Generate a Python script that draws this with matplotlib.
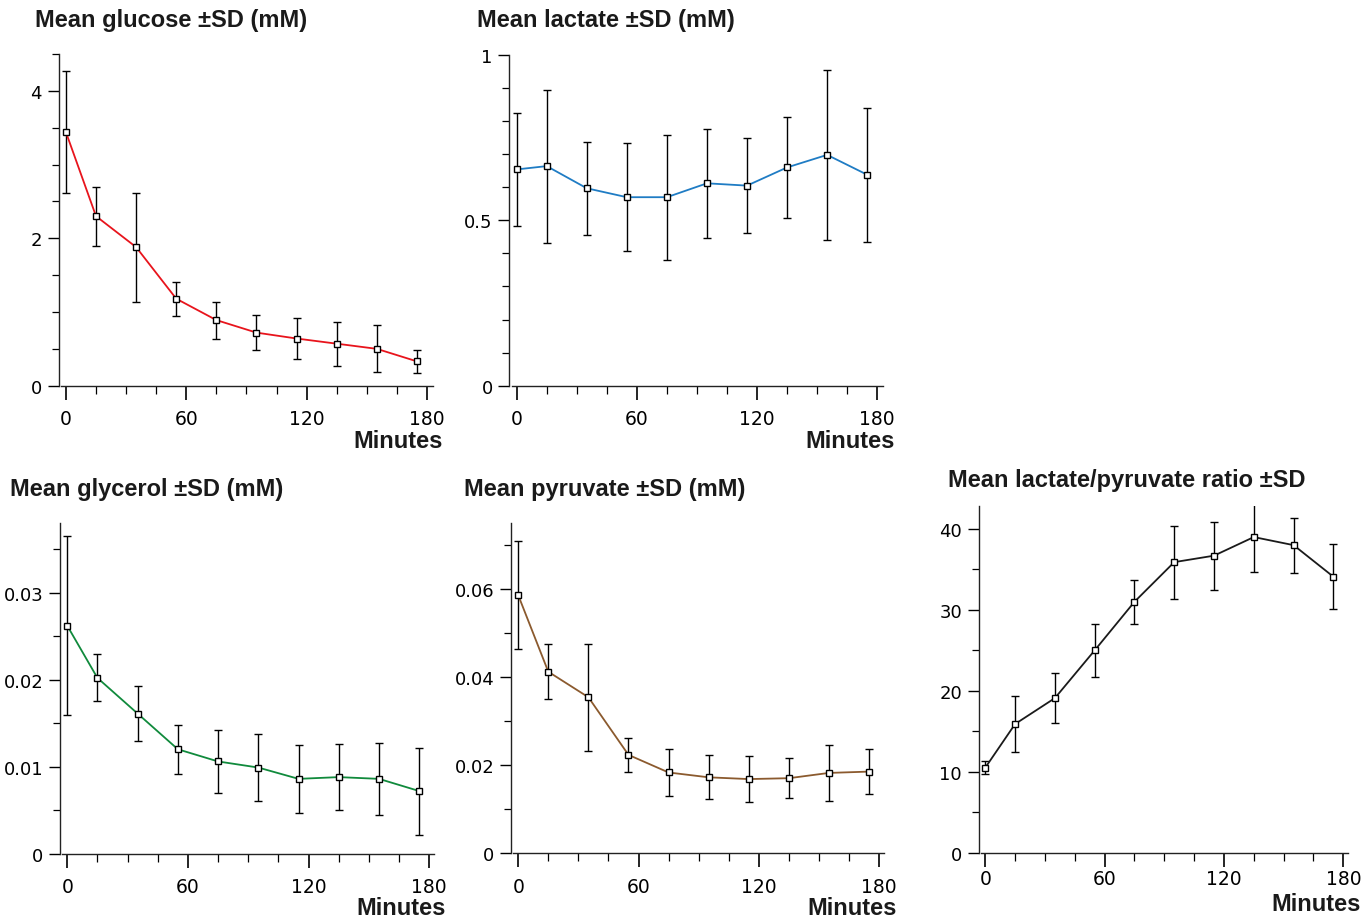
import numpy as np
import matplotlib
matplotlib.use("Agg")
import matplotlib.pyplot as plt
from matplotlib.ticker import MultipleLocator, FuncFormatter

# sample times (minutes)
minutes = [0, 15, 35, 55, 75, 95, 115, 135, 155, 175]

glucose = [3.44, 2.30, 1.88, 1.18, 0.89, 0.72, 0.64, 0.57, 0.50, 0.33]
glucose_sd = [0.83, 0.40, 0.74, 0.23, 0.25, 0.24, 0.28, 0.30, 0.32, 0.16]

lactate = [0.654, 0.664, 0.597, 0.570, 0.570, 0.612, 0.605, 0.660, 0.698, 0.638]
lactate_sd = [0.171, 0.231, 0.140, 0.163, 0.189, 0.165, 0.144, 0.152, 0.256, 0.202]

glycerol = [0.0262, 0.0202, 0.0161, 0.0120, 0.0106, 0.0099, 0.0086, 0.0088, 0.0086, 0.0072]
glycerol_sd = [0.0103, 0.0027, 0.0032, 0.0028, 0.0036, 0.0039, 0.0039, 0.0038, 0.0041, 0.0050]

pyruvate = [0.0586, 0.0412, 0.0354, 0.0223, 0.0183, 0.0172, 0.0168, 0.0170, 0.0182, 0.0185]
pyruvate_sd = [0.0123, 0.0062, 0.0122, 0.0039, 0.0054, 0.0050, 0.0052, 0.0045, 0.0064, 0.0052]

ratio = [10.5, 15.9, 19.1, 25.0, 31.0, 35.9, 36.7, 39.0, 38.0, 34.1]
ratio_sd = [0.8, 3.5, 3.05, 3.25, 2.75, 4.5, 4.2, 4.3, 3.4, 4.0]

W, H = 1363, 920
fig = plt.figure(figsize=(W / 100, H / 100), dpi=100)

title_font = dict(family=["Liberation Sans", "DejaVu Sans"], weight="bold", size=17, color="#1a1a1a")


def make_panel(left, top, right, bottom, xlim, ylim, yticks, yminor,
               y, sd, color, title, title_xy, minutes_xy, xpad=7):
    ax = fig.add_axes([left / W, 1 - bottom / H, (right - left) / W, (bottom - top) / H])
    ax.errorbar(minutes, y, yerr=sd, color=color, lw=1.3, ecolor="black",
                elinewidth=1.0, capsize=3, capthick=1.0, marker="s", ms=5,
                mfc="white", mec="black", mew=1.0, clip_on=True)
    ax.set_xlim(*xlim)
    ax.set_ylim(*ylim)
    ax.spines["top"].set_visible(False)
    ax.spines["right"].set_visible(False)
    ax.spines["bottom"].set_bounds(xlim[0] + 1.2, xlim[1])
    for s in ("left", "bottom"):
        ax.spines[s].set_linewidth(1.0)
        ax.spines[s].set_color("#222222")
    ax.set_xticks([0, 60, 120, 180])
    ax.xaxis.set_minor_locator(MultipleLocator(15))
    ax.set_yticks(yticks)
    ax.yaxis.set_minor_locator(MultipleLocator(yminor))
    ax.yaxis.set_major_formatter(FuncFormatter(lambda v, p: "%g" % v))
    ax.tick_params(axis="x", which="major", length=10, width=1.2, pad=xpad, labelsize=13.5)
    ax.tick_params(axis="x", which="minor", length=6, width=0.9)
    ax.tick_params(axis="y", which="major", length=8, width=1.0, pad=4, labelsize=13)
    ax.tick_params(axis="y", which="minor", length=5, width=0.9)
    fig.text(title_xy[0] / W, 1 - title_xy[1] / H, title, ha="left", va="center", **title_font)
    fig.text(minutes_xy[0] / W, 1 - minutes_xy[1] / H, "Minutes", ha="right", va="center", **title_font)
    return ax


make_panel(58.7, 55, 433, 386.7, (-3.6, 183), (0, 4.5), [0, 2, 4], 0.5,
           glucose, glucose_sd, "#e8141c", "Mean glucose ±SD (mM)", (35, 20), (443, 441))
make_panel(509.3, 56, 883, 386.7, (-3.7, 182.9), (0, 1.0), [0, 0.5, 1], 0.1,
           lactate, lactate_sd, "#1f7cc4", "Mean lactate ±SD (mM)", (477, 20), (895, 441))
make_panel(60, 524, 434.3, 854.7, (-3.6, 182.5), (0, 0.038), [0, 0.01, 0.02, 0.03], 0.005,
           glycerol, glycerol_sd, "#108a3c", "Mean glycerol ±SD (mM)", (10, 490), (446, 909))
make_panel(511, 524, 884.3, 854, (-3.6, 182.6), (0, 0.075), [0, 0.02, 0.04, 0.06], 0.01,
           pyruvate, pyruvate_sd, "#8b5a2e", "Mean pyruvate ±SD (mM)", (464, 490), (897, 909))
make_panel(978.7, 507.3, 1348.3, 853.7, (-3.3, 182.5), (0, 42.8), [0, 10, 20, 30, 40], 5,
           ratio, ratio_sd, "#1a1a1a", "Mean lactate/pyruvate ratio ±SD", (948, 481), (1361, 905),
           xpad=2)

fig.savefig("out.png", dpi=100, facecolor="white")
